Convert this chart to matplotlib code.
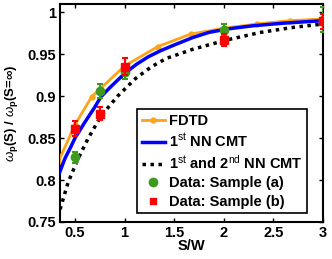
import matplotlib
matplotlib.use('Agg')
import matplotlib.pyplot as plt
from matplotlib.lines import Line2D

plt.rcParams['font.family'] = ['Liberation Sans', 'DejaVu Sans']
plt.rcParams['mathtext.fontset'] = 'custom'
plt.rcParams['mathtext.rm'] = 'Liberation Sans'
plt.rcParams['mathtext.it'] = 'Liberation Sans:italic'
plt.rcParams['mathtext.bf'] = 'Liberation Sans:bold'

# FDTD (orange line with dots)
x_fdtd = [1/3, 0.5, 2/3, 1.0, 4/3, 5/3, 2.0, 7/3, 8/3, 3.0]
y_fdtd = [0.822, 0.866, 0.899, 0.936, 0.959, 0.974, 0.981, 0.986, 0.990, 0.992]

# 1st NN CMT (blue solid)
x_nn1 = [0.345, 0.4, 0.46, 0.5, 0.6, 0.7, 0.76, 0.85, 1.0, 1.12, 1.24, 1.36, 1.5, 1.69, 1.85, 2.03, 2.3, 2.6, 3.0]
y_nn1 = [0.809, 0.826, 0.840, 0.850, 0.869, 0.887, 0.899, 0.910, 0.927, 0.938, 0.947, 0.954, 0.961, 0.970, 0.976, 0.980, 0.984, 0.987, 0.990]

# 1st and 2nd NN CMT (black dotted)
x_nn2 = [0.35, 0.43, 0.53, 0.63, 0.76, 0.93, 1.11, 1.27, 1.42, 1.69, 2.03, 2.37, 2.70, 3.0]
y_nn2 = [0.765, 0.797, 0.825, 0.849, 0.876, 0.900, 0.921, 0.935, 0.945, 0.956, 0.967, 0.976, 0.982, 0.986]

# measured data
x_data = [0.5, 0.75, 1.0, 2.0, 3.0]
y_a = [0.827, 0.906, 0.929, 0.979, 0.991]
err_a = [0.007, 0.008, 0.008, 0.007, 0.015]
y_b = [0.861, 0.879, 0.935, 0.967, 0.989]
err_b = [0.009, 0.008, 0.010, 0.007, 0.009]

orange = '#ffa31a'
green = '#3c9a1c'

fig = plt.figure(figsize=(3.32, 2.59), dpi=100)
ax = fig.add_axes([0.181, 0.143, 0.792, 0.842])

ax.plot(x_fdtd, y_fdtd, '-o', color=orange, lw=2, ms=3.5, label='FDTD', zorder=3)
ax.plot(x_nn1, y_nn1, '-', color='#0000ff', lw=2.5, label=r'1$^{\rm st}$ NN CMT', zorder=4)
ax.plot(x_nn2, y_nn2, color='black', lw=2.5, linestyle=(0, (1, 1.3)),
        label=r'1$^{\rm st}$ and 2$^{\rm nd}$ NN CMT', zorder=2)
ax.errorbar(x_data, y_a, yerr=err_a, fmt='o', color=green, ms=6, elinewidth=1.5,
            capsize=2.5, capthick=1.5, label='Data: Sample (a)', zorder=5)
ax.errorbar(x_data, y_b, yerr=err_b, fmt='s', color='#ff0000', ms=5.5, elinewidth=1.5,
            capsize=2.5, capthick=1.5, label='Data: Sample (b)', zorder=6)

ax.set_xlim(0.35, 3.0)
ax.set_ylim(0.75, 1.01)
ax.set_xticks([0.5, 1, 1.5, 2, 2.5, 3])
ax.set_xticklabels(['0.5', '1', '1.5', '2', '2.5', '3'])
ax.set_yticks([0.75, 0.8, 0.85, 0.9, 0.95, 1.0])
ax.set_yticklabels(['0.75', '0.8', '0.85', '0.9', '0.95', '1'])
ax.tick_params(direction='in', top=True, right=True, length=3, width=1,
               labelsize=10.5, pad=3)
for lab in ax.get_xticklabels() + ax.get_yticklabels():
    lab.set_fontweight('bold')
for sp in ax.spines.values():
    sp.set_linewidth(1.5)

ax.set_xlabel('S/W', fontsize=10.5, fontweight='bold', labelpad=-1)
ax.set_ylabel(r'$\omega_{\mathbf{p}}$(S) / $\omega_{\mathbf{p}}$(S=$\mathbf{\infty}$)',
              fontsize=9.5, fontweight='bold', labelpad=5)

h, l = ax.get_legend_handles_labels()
h = h[:3] + [Line2D([], [], marker='o', ls='none', color=green, ms=6),
             Line2D([], [], marker='s', ls='none', color='#ff0000', ms=4.5)]
leg = ax.legend(h, l, loc='lower right', bbox_to_anchor=(0.94, 0.04), borderaxespad=0,
                prop={'weight': 'bold', 'size': 10.5}, handlelength=1.6, handletextpad=0.3,
                labelspacing=0.3, borderpad=0.3, fancybox=False, framealpha=1,
                edgecolor='black')
leg.get_frame().set_linewidth(1.2)

fig.savefig('out.png', dpi=100)
